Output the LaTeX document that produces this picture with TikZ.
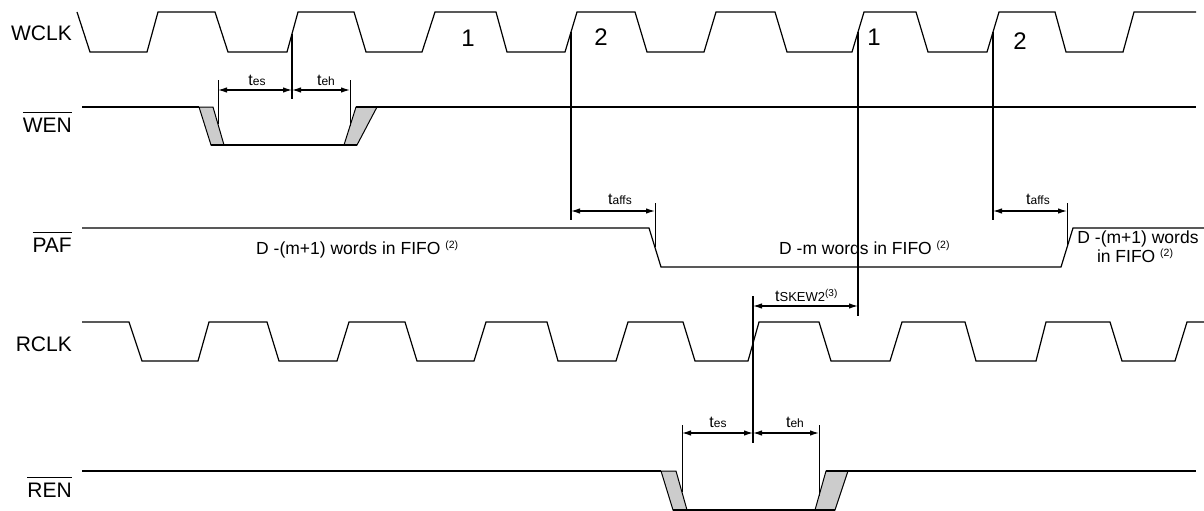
\documentclass[tikz,border=0pt]{standalone}
\usepackage{fontspec}
\setmainfont{Liberation Sans}
\usetikzlibrary{arrows.meta}
\newcommand\myol[1]{\vbox{\hrule height 0.9pt\kern 4.5pt\hbox{#1}}}
\newcommand\tsym[1]{{\fontsize{16}{16}\selectfont t}{\fontsize{12}{12}\selectfont #1}}
\newcommand\fnote[1]{\raisebox{5.5pt}{\fontsize{10.5}{10.5}\selectfont(#1)}}
\begin{document}
\begin{tikzpicture}[x=1pt,y=-1pt,
 sig/.style={line width=1.2pt, line join=miter},
 edgeline/.style={line width=1.3pt},
 tickline/.style={line width=0.8pt},
 dimarrow/.style={line width=1.2pt, {Latex[length=9pt,width=5.5pt]}-{Latex[length=9pt,width=5.5pt]}},
 lab/.style={anchor=base east, inner sep=0pt, font=\fontsize{21}{21}\selectfont},
 txt/.style={anchor=base west, inner sep=0pt, font=\fontsize{17.5}{17.5}\selectfont},
 ctxt/.style={anchor=base, inner sep=0pt, font=\fontsize{17.5}{17.5}\selectfont},
 num/.style={anchor=base, inner sep=0pt, font=\fontsize{24}{24}\selectfont},
 tlab/.style={anchor=base, inner sep=0pt},
 win/.style={fill=gray!40, draw=black, line width=1pt, line join=miter}]
\useasboundingbox (0,0) rectangle (1204,511);

% labels
\node[lab] (lwclk) at (72,41) {WCLK};
\node[lab] (lwen) at (72,132) {\myol{WEN}};
\node[lab] (lpaf) at (72,252) {\myol{PAF}};
\node[lab] (lrclk) at (72,351) {RCLK};
\node[lab] (lren) at (72,497) {\myol{REN}};

% WCLK
\draw[sig] (77,12) -- (90,52) -- (147,52) -- (158,12) -- (215,12) -- (228,52) -- (287,52) -- (298,12) -- (354,12) -- (366,52) -- (422,52) -- (435,12) -- (496,12) -- (507,52) -- (565,52) -- (577,12) -- (635,12) -- (647,52) -- (704,52) -- (716,12) -- (775,12) -- (787,52) -- (852,52) -- (864,12) -- (916,12) -- (928,52) -- (987,52) -- (999,12) -- (1055,12) -- (1066,52) -- (1123,52) -- (1134,12) -- (1196,12);
\node[num] (n1) at (468,47) {1};
\node[num] (n2) at (601,46) {2};
\node[num] (n3) at (874,46) {1};
\node[num] (n4) at (1020,49) {2};

% WEN
\draw[win] (199,107) -- (213,107) -- (224,145) -- (211,145) -- cycle;
\draw[win] (344,145) -- (357,145) -- (377,107) -- (356,107) -- cycle;
\draw[sig] (82,107) -- (199,107);
\draw[sig] (211,145) -- (357,145);
\draw[sig] (356,107) -- (1196,107);

\coordinate (e1t) at (292,34);
\coordinate (e1b) at (292,99);
\draw[edgeline] (e1t) -- (e1b);
\coordinate (ws1t) at (218,80);
\coordinate (ws1b) at (218,124);
\coordinate (wh1t) at (350,80);
\coordinate (wh1b) at (350,126);
\draw[tickline] (ws1t) -- (ws1b);
\draw[tickline] (wh1t) -- (wh1b);
\coordinate (wsa) at (218,90);
\coordinate (wsm) at (292,90);
\coordinate (wha) at (350,90);
\draw[dimarrow] (wsa) -- (wsm);
\draw[dimarrow] (wsm) -- (wha);
\node[tlab] (wtes) at (257,85) {\tsym{es}};
\node[tlab] (wteh) at (326,85) {\tsym{eh}};

% PAF
\draw[sig] (82,228) -- (649,228) -- (661,267) -- (1061,267) -- (1073,228) -- (1204,228);
\node[txt] (p1) at (256,254) {D -(m+1) words in FIFO \fnote{2}};
\node[txt] (p2) at (779,254) {D -m words in FIFO \fnote{2}};
\node[ctxt] (p3) at (1138,243) {D -(m+1) words};
\node[ctxt] (p4) at (1135,262) {in FIFO \fnote{2}};

\coordinate (e2t) at (571,32);
\coordinate (e2b) at (571,220);
\draw[edgeline] (e2t) -- (e2b);
\coordinate (f1t) at (655,203);
\coordinate (f1b) at (655,247);
\draw[tickline] (f1t) -- (f1b);
\coordinate (fa1) at (571,211);
\coordinate (fb1) at (655,211);
\draw[dimarrow] (fa1) -- (fb1);
\node[tlab] (taffs1) at (620,204) {\tsym{affs}};

\coordinate (e4t) at (993,32);
\coordinate (e4b) at (993,220);
\draw[edgeline] (e4t) -- (e4b);
\coordinate (f2t) at (1067,203);
\coordinate (f2b) at (1067,247);
\draw[tickline] (f2t) -- (f2b);
\coordinate (fa2) at (993,211);
\coordinate (fb2) at (1067,211);
\draw[dimarrow] (fa2) -- (fb2);
\node[tlab] (taffs2) at (1038,204) {\tsym{affs}};

% tSKEW2
\coordinate (e3t) at (858,32);
\coordinate (e3b) at (858,316);
\draw[edgeline] (e3t) -- (e3b);
\coordinate (r1t) at (753,296);
\coordinate (r1b) at (753,443);
\draw[edgeline] (r1t) -- (r1b);
\coordinate (ska) at (753,306);
\coordinate (skb) at (858,306);
\draw[dimarrow] (ska) -- (skb);
\node[anchor=base west, inner sep=0pt] (tskew) at (775,301) {{\fontsize{16}{16}\selectfont t}{\fontsize{13}{13}\selectfont SKEW2}\raisebox{5pt}{\fontsize{10}{10}\selectfont(3)}};

% RCLK
\draw[sig] (82,322) -- (129,322) -- (142,361) -- (198,361) -- (209,322) -- (267,322) -- (279,361) -- (337,361) -- (349,322) -- (405,322) -- (417,361) -- (474,361) -- (486,322) -- (547,322) -- (558,361) -- (616,361) -- (628,322) -- (683,322) -- (695,361) -- (748,361) -- (759,322) -- (819,322) -- (831,361) -- (890,361) -- (902,322) -- (965,322) -- (976,361) -- (1036,361) -- (1046,322) -- (1110,322) -- (1122,361) -- (1175,361) -- (1187,322) -- (1204,322);

% REN
\draw[win] (661,471) -- (676,471) -- (687,510) -- (673,510) -- cycle;
\draw[win] (815,510) -- (835,510) -- (848,471) -- (826,471) -- cycle;
\draw[sig] (82,471) -- (661,471);
\draw[sig] (673,510) -- (835,510);
\draw[sig] (826,471) -- (1196,471);

\coordinate (rs1t) at (682,425);
\coordinate (rs1b) at (682,492);
\coordinate (rh1t) at (819,425);
\coordinate (rh1b) at (819,496);
\draw[tickline] (rs1t) -- (rs1b);
\draw[tickline] (rh1t) -- (rh1b);
\coordinate (rsa) at (682,433);
\coordinate (rsm) at (753,433);
\coordinate (rha) at (819,433);
\draw[dimarrow] (rsa) -- (rsm);
\draw[dimarrow] (rsm) -- (rha);
\node[tlab] (rtes) at (718,427) {\tsym{es}};
\node[tlab] (rteh) at (795,427) {\tsym{eh}};
\end{tikzpicture}
\end{document}
